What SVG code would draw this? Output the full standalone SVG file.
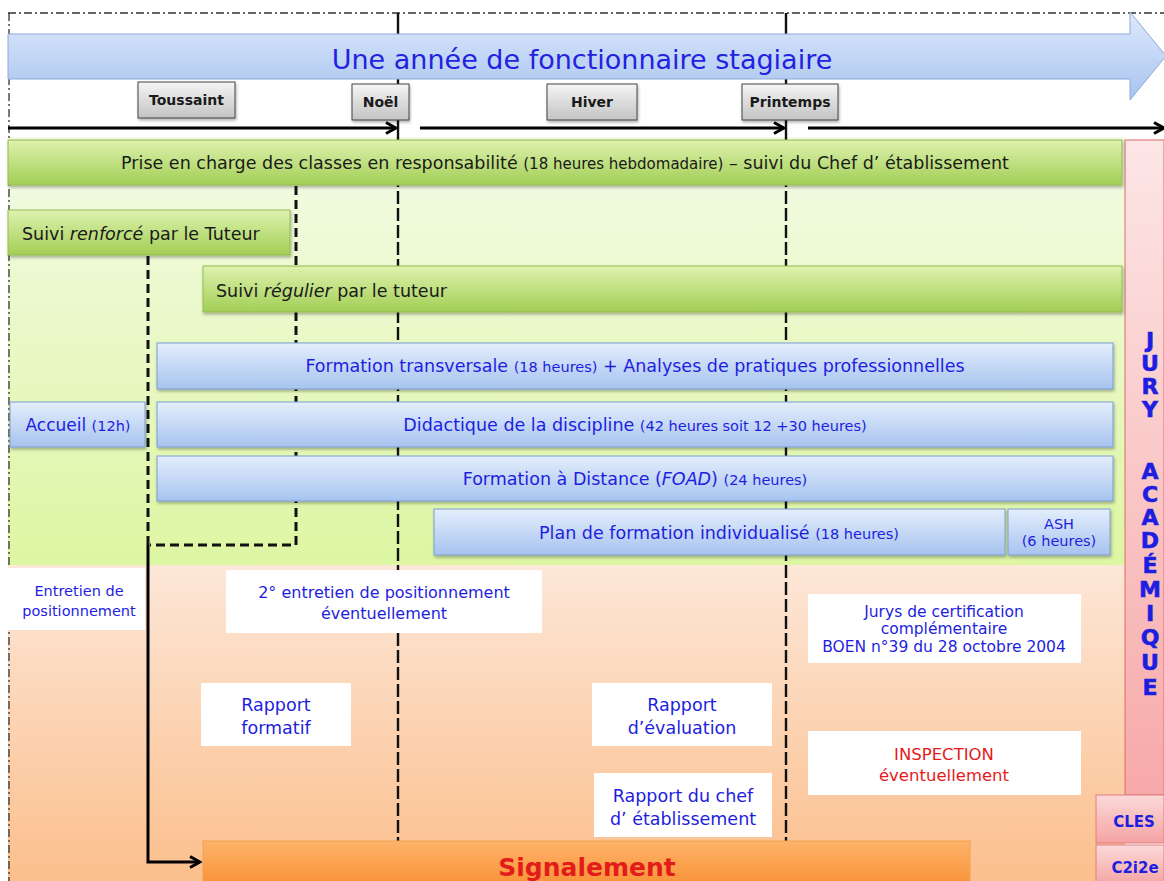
<svg xmlns="http://www.w3.org/2000/svg" width="1164" height="881" viewBox="0 0 1164 881">
<defs>
<linearGradient id="gBar" x1="0" y1="0" x2="0" y2="1"><stop offset="0" stop-color="#def2ae"/><stop offset="1" stop-color="#a2ce55"/></linearGradient>
<linearGradient id="bBar" x1="0" y1="0" x2="0" y2="1"><stop offset="0" stop-color="#e4eefc"/><stop offset="1" stop-color="#a7c3ef"/></linearGradient>
<linearGradient id="greenBg" x1="0" y1="0" x2="0" y2="1"><stop offset="0" stop-color="#f3fbe7"/><stop offset="1" stop-color="#ddf6a2"/></linearGradient>
<linearGradient id="orangeBg" x1="0" y1="0" x2="0" y2="1"><stop offset="0" stop-color="#fde7d8"/><stop offset="1" stop-color="#fbbf8c"/></linearGradient>
<linearGradient id="pinkCol" x1="0" y1="0" x2="0" y2="1"><stop offset="0" stop-color="#fde6e6"/><stop offset="1" stop-color="#f7a9a9"/></linearGradient>
<linearGradient id="pinkBox" x1="0" y1="0" x2="0" y2="1"><stop offset="0" stop-color="#fcd9d9"/><stop offset="1" stop-color="#f5a3a3"/></linearGradient>
<linearGradient id="sig" x1="0" y1="0" x2="0" y2="1"><stop offset="0" stop-color="#fdb46a"/><stop offset="1" stop-color="#f98c2e"/></linearGradient>
<linearGradient id="grey" x1="0" y1="0" x2="0" y2="1"><stop offset="0" stop-color="#f5f5f5"/><stop offset="1" stop-color="#c3c3c3"/></linearGradient>
<linearGradient id="titleG" x1="0" y1="0" x2="0" y2="1"><stop offset="0" stop-color="#dde9fb"/><stop offset="1" stop-color="#a8c4f0"/></linearGradient>
<filter id="sh" x="-5%" y="-20%" width="110%" height="160%"><feDropShadow dx="1" dy="2" stdDeviation="1.5" flood-color="#000" flood-opacity="0.3"/></filter>
<marker id="chev" viewBox="0 0 14 14" refX="12" refY="7" markerWidth="14" markerHeight="14" markerUnits="userSpaceOnUse" orient="auto"><path d="M2,1.5 L12,7 L2,12.5" fill="none" stroke="#000" stroke-width="3"/></marker>
<style>
text{font-family:"DejaVu Sans","Liberation Sans",sans-serif;}
.blk{fill:#1a1a1a;}
.blu{fill:#1e1ee0;}
.red{fill:#e41b1b;}
.gbar{fill:url(#gBar);stroke:#95bb52;stroke-width:1;filter:url(#sh);}
.bbar{fill:url(#bBar);stroke:#7b9dd2;stroke-width:1;filter:url(#sh);}
.mile{fill:url(#grey);stroke:#444;stroke-width:1;filter:url(#sh);}
.wbox{fill:#fff;}
.sm{font-size:14.5px;}
.tl{fill:none;stroke:#000;stroke-width:2.8;}
.vd{fill:none;stroke:#111;stroke-width:2.4;stroke-dasharray:13 4;}
.td{fill:none;stroke:#111;stroke-width:3;stroke-dasharray:9 5;}
.jury{font-family:"DejaVu Sans",sans-serif;font-weight:900;font-size:22px;fill:#1e1ee0;stroke:#1e1ee0;stroke-width:0.6;}
.mt{font-weight:bold;font-size:14px;fill:#1a1a1a;}
</style>
</defs>

<!-- backgrounds -->
<rect x="0" y="0" width="1164" height="881" fill="#fff"/>
<rect x="8" y="137" width="1117" height="428" fill="url(#greenBg)"/>
<rect x="8" y="565" width="1117" height="316" fill="url(#orangeBg)"/>
<rect x="1125" y="140" width="39" height="655" fill="url(#pinkCol)" stroke="#de6b6b" stroke-width="1"/>
<line x1="8" y1="13" x2="1164" y2="13" stroke="#333" stroke-width="1.3" stroke-dasharray="8 3 2 3"/>

<g id="connectors">
  <line x1="9" y1="13" x2="9" y2="881" stroke="#333" stroke-width="1.3" stroke-dasharray="8 3 2 3"/>
  <line x1="398" y1="13" x2="398" y2="140" stroke="#111" stroke-width="2.4"/>
  <line x1="398" y1="140" x2="398" y2="841" class="vd"/>
  <line x1="786" y1="13" x2="786" y2="140" stroke="#111" stroke-width="2.4"/>
  <line x1="786" y1="140" x2="786" y2="841" class="vd"/>
  <line x1="8" y1="128" x2="396" y2="128" class="tl" marker-end="url(#chev)"/>
  <line x1="420" y1="128" x2="784" y2="128" class="tl" marker-end="url(#chev)"/>
  <line x1="808" y1="128" x2="1164" y2="128" class="tl" marker-end="url(#chev)"/>
  <path d="M296,186 L296,545 L150,545" class="td"/>
  <line x1="148" y1="256" x2="148" y2="545" class="td"/>
  <path d="M148,545 L148,862 L200,862" fill="none" stroke="#000" stroke-width="3" marker-end="url(#chev)"/>
</g>

<g id="title">
  <path d="M8,34 L1130,34 L1130,12 L1166,56 L1130,100 L1130,79 L8,79 Z" fill="url(#titleG)" stroke="#8eaad8" stroke-width="1"/>
  <text x="582" y="69" text-anchor="middle" font-size="27" fill="#2222e0">Une année de fonctionnaire stagiaire</text>
</g>

<g id="toussaint"><rect x="138" y="82" width="97" height="36" class="mile"/><text x="186.5" y="105" text-anchor="middle" class="mt">Toussaint</text></g>
<g id="noel"><rect x="352" y="84" width="57" height="36" class="mile"/><text x="380.5" y="107" text-anchor="middle" class="mt">Noël</text></g>
<g id="hiver"><rect x="547" y="84" width="90" height="36" class="mile"/><text x="592" y="107" text-anchor="middle" class="mt">Hiver</text></g>
<g id="printemps"><rect x="742" y="84" width="96" height="36" class="mile"/><text x="790" y="107" text-anchor="middle" class="mt">Printemps</text></g>

<g id="prise"><rect x="8" y="140" width="1114" height="45" class="gbar"/><text x="565" y="169" text-anchor="middle" font-size="17.5" class="blk">Prise en charge des classes en responsabilité <tspan font-size="15">(18 heures hebdomadaire)</tspan> – suivi du Chef d’ établissement</text></g>
<g id="suivi-renforce"><rect x="8" y="210" width="282" height="45" class="gbar"/><text x="22" y="240" font-size="17.5" class="blk">Suivi <tspan font-style="italic">renforcé</tspan> par le Tuteur</text></g>
<g id="suivi-regulier"><rect x="203" y="266" width="919" height="46" class="gbar"/><text x="216" y="297" font-size="17.5" class="blk">Suivi <tspan font-style="italic">régulier</tspan> par le tuteur</text></g>

<g id="formation-transversale"><rect x="157" y="343" width="956" height="46" class="bbar"/><text x="635" y="372" text-anchor="middle" font-size="17.5" class="blu">Formation transversale <tspan class="sm">(18 heures)</tspan> + Analyses de pratiques professionnelles</text></g>
<g id="accueil"><rect x="10" y="402" width="135" height="45" class="bbar"/><text x="78" y="431" text-anchor="middle" font-size="17" class="blu">Accueil <tspan class="sm">(12h)</tspan></text></g>
<g id="didactique"><rect x="157" y="402" width="956" height="45" class="bbar"/><text x="635" y="431" text-anchor="middle" font-size="17.5" class="blu">Didactique de la discipline <tspan class="sm">(42 heures soit 12 +30 heures)</tspan></text></g>
<g id="foad"><rect x="157" y="456" width="956" height="45" class="bbar"/><text x="635" y="485" text-anchor="middle" font-size="17.5" class="blu">Formation à Distance (<tspan font-style="italic">FOAD</tspan>) <tspan class="sm">(24 heures)</tspan></text></g>
<g id="plan"><rect x="434" y="509" width="571" height="46" class="bbar"/><text x="719" y="539" text-anchor="middle" font-size="17.5" class="blu">Plan de formation individualisé <tspan class="sm">(18 heures)</tspan></text></g>
<g id="ash"><rect x="1008" y="509" width="102" height="46" class="bbar"/><text x="1059" y="529" text-anchor="middle" font-size="14.5" class="blu">ASH</text><text x="1059" y="546" text-anchor="middle" font-size="14.5" class="blu">(6 heures)</text></g>

<g id="entretien"><rect x="8" y="568" width="137" height="62" class="wbox"/><text x="79" y="596" text-anchor="middle" font-size="14.5" class="blu">Entretien de</text><text x="79" y="616" text-anchor="middle" font-size="14.5" class="blu">positionnement</text></g>
<g id="entretien2"><rect x="226" y="570" width="316" height="63" class="wbox"/><text x="384" y="598" text-anchor="middle" font-size="16" class="blu">2° entretien de positionnement</text><text x="384" y="619" text-anchor="middle" font-size="16" class="blu">éventuellement</text></g>
<g id="rapport-formatif"><rect x="201" y="683" width="150" height="63" class="wbox"/><text x="276" y="711" text-anchor="middle" font-size="17.5" class="blu">Rapport</text><text x="276" y="734" text-anchor="middle" font-size="17.5" class="blu">formatif</text></g>
<g id="rapport-evaluation"><rect x="592" y="683" width="180" height="63" class="wbox"/><text x="682" y="711" text-anchor="middle" font-size="17.5" class="blu">Rapport</text><text x="682" y="734" text-anchor="middle" font-size="17.5" class="blu">d’évaluation</text></g>
<g id="rapport-chef"><rect x="594" y="773" width="178" height="64" class="wbox"/><text x="683" y="802" text-anchor="middle" font-size="17.5" class="blu">Rapport du chef</text><text x="683" y="825" text-anchor="middle" font-size="17.5" class="blu">d’ établissement</text></g>
<g id="jurys"><rect x="808" y="594" width="273" height="69" class="wbox"/><text x="944" y="617" text-anchor="middle" font-size="15.5" class="blu">Jurys de certification</text><text x="944" y="634" text-anchor="middle" font-size="15.5" class="blu">complémentaire</text><text x="944" y="652" text-anchor="middle" font-size="15.5" class="blu">BOEN n°39 du 28 octobre 2004</text></g>
<g id="inspection"><rect x="808" y="731" width="273" height="64" class="wbox"/><text x="944" y="760" text-anchor="middle" font-size="16.5" class="red">INSPECTION</text><text x="944" y="781" text-anchor="middle" font-size="16.5" class="red">éventuellement</text></g>

<g id="signalement"><rect x="203" y="841" width="767" height="52" fill="url(#sig)" stroke="#f3a04e" stroke-width="1"/><text x="587" y="876" text-anchor="middle" font-size="25" font-weight="bold" class="red">Signalement</text></g>

<g id="jury">
  <text x="1150" y="348" text-anchor="middle" class="jury">J</text>
  <text x="1150" y="371" text-anchor="middle" class="jury">U</text>
  <text x="1150" y="394" text-anchor="middle" class="jury">R</text>
  <text x="1150" y="417" text-anchor="middle" class="jury">Y</text>
  <text x="1150" y="479" text-anchor="middle" class="jury">A</text>
  <text x="1150" y="502" text-anchor="middle" class="jury">C</text>
  <text x="1150" y="525" text-anchor="middle" class="jury">A</text>
  <text x="1150" y="548" text-anchor="middle" class="jury">D</text>
  <text x="1150" y="573" text-anchor="middle" class="jury">É</text>
  <text x="1150" y="597" text-anchor="middle" class="jury">M</text>
  <text x="1150" y="621" text-anchor="middle" class="jury">I</text>
  <text x="1150" y="645" text-anchor="middle" class="jury">Q</text>
  <text x="1150" y="670" text-anchor="middle" class="jury">U</text>
  <text x="1150" y="695" text-anchor="middle" class="jury">E</text>
</g>
<g id="cles"><rect x="1096" y="795" width="68" height="48" fill="url(#pinkBox)" stroke="#df7f7f" stroke-width="1"/><text x="1134" y="827" text-anchor="middle" font-size="15" font-weight="bold" class="blu">CLES</text></g>
<g id="c2i2e"><rect x="1096" y="845" width="68" height="40" fill="url(#pinkBox)" stroke="#df7f7f" stroke-width="1"/><text x="1135" y="873" text-anchor="middle" font-size="15" font-weight="bold" class="blu">C2i2e</text></g>
</svg>
